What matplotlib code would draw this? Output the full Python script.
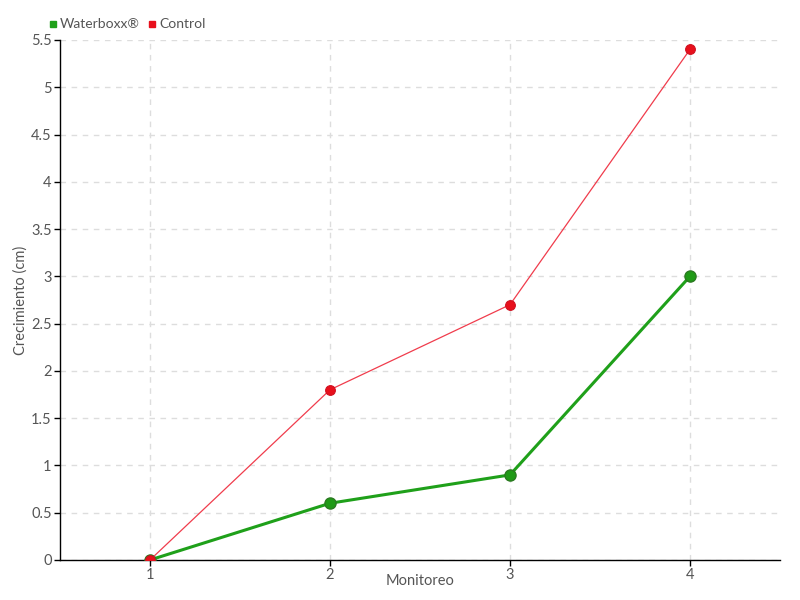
import matplotlib
matplotlib.use("Agg")
import matplotlib.pyplot as plt
from matplotlib.lines import Line2D

monitoreo = [1, 2, 3, 4]
waterboxx = [0, 0.6, 0.9, 3.0]
control = [0, 1.8, 2.7, 5.4]
yticks = [0, 0.5, 1, 1.5, 2, 2.5, 3, 3.5, 4, 4.5, 5, 5.5]
ytick_labels = ["0", "0.5", "1", "1.5", "2", "2.5", "3", "3.5", "4", "4.5", "5", "5.5"]

plt.rcParams['font.family'] = ['Lato', 'DejaVu Sans']
fig = plt.figure(figsize=(8, 6), dpi=100)
ax = fig.add_axes([0.075, 0.0667, 0.9, 0.8667])

ax.plot(monitoreo, waterboxx, color='#1fa01a', lw=2.2, marker='o', ms=8,
        markerfacecolor='#1f9a16', markeredgecolor='#2a7a20', markeredgewidth=1, zorder=3)
ax.plot(monitoreo, control, color='#f03c4c', lw=0.9, marker='o', ms=7,
        markerfacecolor='#e8101c', markeredgecolor='#d01020', markeredgewidth=0.8, zorder=4)

ax.set_xlim(0.5, 4.5)
ax.set_ylim(0, 5.5)
ax.set_xticks(monitoreo)
ax.set_xticklabels([str(m) for m in monitoreo])
ax.set_yticks(yticks)
ax.set_yticklabels(ytick_labels)
ax.grid(True, color='#dddddd', linestyle=(0, (4, 4)), lw=1)
ax.set_axisbelow(True)
for s in ['top', 'right']:
    ax.spines[s].set_visible(False)
for s in ['left', 'bottom']:
    ax.spines[s].set_color('black')
    ax.spines[s].set_linewidth(1)
ax.tick_params(axis='both', colors='black', labelcolor='#555555', labelsize=10.5, length=4, width=1, pad=2)
ax.set_xlabel('Monitoreo', color='#555555', fontsize=10.5)
ax.xaxis.set_label_coords(0.5, -0.027)
ax.xaxis.label.set_va('top')
ax.set_ylabel('Crecimiento (cm)', color='#555555', fontsize=10.5)
ax.yaxis.set_label_coords(-0.045, 0.5)

handles = [Line2D([], [], marker='s', color='none', markerfacecolor='#1fa01a', markeredgecolor='#1fa01a', ms=5, label='Waterboxx®'),
           Line2D([], [], marker='s', color='none', markerfacecolor='#e8101c', markeredgecolor='#e8101c', ms=5, label='Control')]
fig.legend(handles=handles, loc='upper left', bbox_to_anchor=(0.045, 0.99), ncol=2, frameon=False,
           fontsize=10, handlelength=0.6, handletextpad=0.2, columnspacing=0.6, labelcolor='#555555')

fig.savefig('out.png', dpi=100)
